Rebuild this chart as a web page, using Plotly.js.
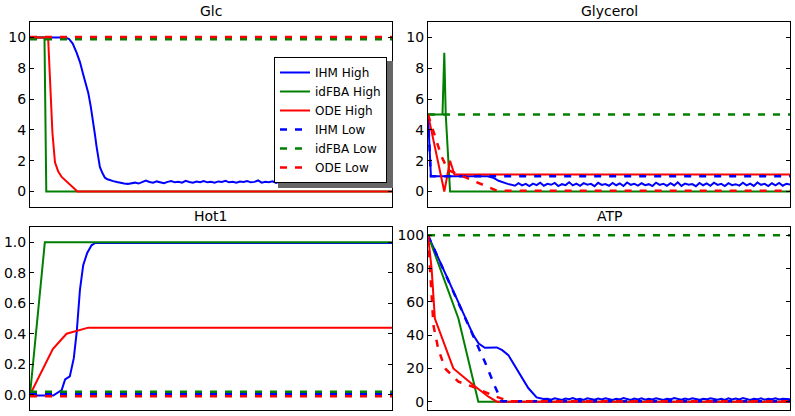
<!DOCTYPE html>
<html>
<head>
<meta charset="utf-8">
<script src="https://cdn.plot.ly/plotly-3.0.1.min.js"></script>
<style>html,body{margin:0;padding:0;background:#fff;}#chart{width:795px;height:416px;}</style>
</head>
<body>
<div id="chart"></div>
<script>
// ---------- data ----------
const seriesNames = ["IHM High", "idFBA High", "ODE High", "IHM Low", "idFBA Low", "ODE Low"];
const panelTitles = ["Glc", "Glycerol", "Hot1", "ATP"];

// shared x positions for the noisy tails
const tailX = [23,24,25,26,27,28,29,30,31,32,33,34,35,36,37,38,39,40,41,42,43,44,45,46,47,48,49,50,
  51,52,53,54,55,56,57,58,59,60,61,62,63,64,65,66,67,68,69,70,71,72,73,74,75,76,77,78,79,80,
  81,82,83,84,85,86,87,88,89,90,91,92,93,94,95,96,97,98,99,100];

// Glc
const glcIhmHighHeadX = [0, 9.7, 10.8, 11.8, 12.9, 13.8, 14.7, 15.5, 16.1, 16.8, 17.5, 18.0, 18.4, 18.9, 19.3, 20.0, 20.7, 21.4, 22.1];
const glcIhmHighHeadY = [10, 10, 9.9, 9.6, 9.0, 8.4, 7.6, 7.0, 6.4, 5.5, 4.5, 3.6, 2.9, 2.2, 1.6, 1.2, 0.9, 0.8, 0.73];
const glcIhmHighTailY = [0.68,0.62,0.55,0.52,0.50,0.55,0.58,0.52,
  0.60,0.72,0.62,0.58,0.66,0.60,0.55,0.63,0.68,0.60,
  0.64,0.58,0.70,0.62,0.57,0.65,0.61,0.68,0.60,0.63,
  0.58,0.66,0.62,0.70,0.60,0.64,0.57,0.65,0.62,0.68,
  0.60,0.63,0.72,0.58,0.64,0.61,0.67,0.56,0.65,0.62,
  0.69,0.60,0.64,0.58,0.66,0.62,0.70,0.59,0.63,0.67,
  0.57,0.65,0.62,0.72,0.60,0.64,0.58,0.68,0.61,0.65,
  0.59,0.66,0.62,0.70,0.58,0.64,0.61,0.67,0.60,0.63];
const glcIdfbaHighX = [0, 4.0, 4.5, 100];
const glcIdfbaHighY = [10, 10, 0, 0];
const glcOdeHighX = [0, 5.0, 6.2, 6.9, 7.8, 8.75, 13.1, 100];
const glcOdeHighY = [10, 10, 3.8, 1.9, 1.3, 0.95, 0, 0];
const glcIhmLowX = [0, 100];
const glcIhmLowY = [10, 10];
const glcIdfbaLowX = [0, 100];
const glcIdfbaLowY = [9.88, 9.88];
const glcOdeLowX = [0, 100];
const glcOdeLowY = [10.02, 10.02];

// Glycerol
const glyIhmHighHeadX = [0, 0.8, 16.5, 18.0, 19.5, 21.0, 22.0];
const glyIhmHighHeadY = [5, 1.0, 1.0, 0.9, 0.7, 0.55, 0.5];
const glyIhmHighTailY = [0.45,0.38,0.55,0.40,0.50,0.36,0.52,0.42,
  0.58,0.38,0.50,0.44,0.56,0.36,0.48,0.42,0.60,0.40,
  0.52,0.37,0.55,0.45,0.50,0.35,0.57,0.43,0.49,0.38,
  0.56,0.41,0.53,0.36,0.59,0.44,0.50,0.39,0.54,0.42,
  0.48,0.36,0.58,0.43,0.51,0.38,0.55,0.40,0.60,0.37,
  0.52,0.44,0.49,0.35,0.56,0.41,0.53,0.38,0.58,0.43,
  0.50,0.36,0.55,0.42,0.48,0.39,0.57,0.40,0.52,0.37,
  0.59,0.44,0.50,0.36,0.54,0.41,0.56,0.38,0.51,0.45];
const glyIdfbaHighX = [0, 4.0, 4.5, 4.9, 6.1, 100];
const glyIdfbaHighY = [5, 5, 9, 5, 0, 0];
const glyOdeHighX = [0, 4.5, 6.1, 7.3, 100];
const glyOdeHighY = [5, 0, 2.0, 1.1, 1.1];
const glyIhmLowX = [0, 0.8, 100];
const glyIhmLowY = [5, 1.0, 1.0];
const glyIdfbaLowX = [0, 100];
const glyIdfbaLowY = [5, 5];
const glyOdeLowX = [0, 3.7, 5.5, 12.5, 19.0, 100];
const glyOdeLowY = [5, 2.3, 1.4, 0.7, 0.06, 0.06];

// Hot1
const hotIhmHighX = [0, 6.4, 8.75, 9.7, 11.0, 12.1, 12.9, 13.8, 14.7, 15.8, 17.0, 18.0, 100];
const hotIhmHighY = [-0.005, -0.005, 0.03, 0.10, 0.12, 0.24, 0.41, 0.69, 0.85, 0.93, 0.98, 0.995, 0.995];
const hotIdfbaHighX = [0, 4.1, 100];
const hotIdfbaHighY = [0, 1.0, 1.0];
const hotOdeHighX = [0, 6.3, 10.1, 16.1, 100];
const hotOdeHighY = [0, 0.30, 0.40, 0.44, 0.44];
const hotIhmLowX = [0, 100];
const hotIhmLowY = [0.005, 0.005];
const hotIdfbaLowX = [0, 100];
const hotIdfbaLowY = [0.02, 0.02];
const hotOdeLowX = [0, 100];
const hotOdeLowY = [-0.01, -0.01];

// ATP
const atpIhmHighHeadX = [0, 12.5, 14.0, 15.7, 19.0, 20.5, 22.2, 24.9, 27.7, 30.0, 31.9];
const atpIhmHighHeadY = [100, 40, 35, 32.4, 32.6, 31, 28, 18, 8.2, 2.6, 1.6];
const atpIhmHighTailY = [1.8,1.2,2.0,1.4,1.0,1.9,1.5,2.2,
  1.3,1.7,1.1,2.0,1.6,1.2,1.9,1.4,2.1,1.5,
  1.0,1.8,1.3,2.2,1.6,1.1,1.9,1.4,2.0,1.2,
  1.7,1.3,2.1,1.5,1.0,1.8,1.4,2.2,1.6,1.2,
  1.9,1.3,2.0,1.5,1.1,1.8,1.4,2.1,1.6,1.2,
  1.7,1.0,2.0,1.4,1.9,1.3,2.2,1.5,1.1,1.8,
  1.4,2.0,1.2,1.7,1.5,2.1,1.3,1.8,1.6,1.4];
const atpIdfbaHighX = [0, 8.4, 13.9, 100];
const atpIdfbaHighY = [100, 50, 0, 0];
const atpOdeHighX = [0, 1.0, 1.9, 7.0, 12.5, 16.7, 19.0, 100];
const atpOdeHighY = [100, 80, 50, 20, 10, 3, 0, 0];
const atpIhmLowX = [0, 12.5, 13.4, 15.7, 18.5, 20.3, 100];
const atpIhmLowY = [100, 40, 36, 24, 9.1, 0.3, 0.3];
const atpIdfbaLowX = [0, 100];
const atpIdfbaLowY = [100, 100];
const atpOdeLowX = [0, 0.55, 1.5, 2.8, 4.7, 8.4, 13.0, 18.5, 22.7, 100];
const atpOdeLowY = [100, 77.7, 45.9, 32, 20, 12, 8.5, 3.2, 0.2, 0.2];

// ---------- build ----------
const colors = ["#0000ff", "#007f00", "#ff0000"];
const dashPat = "7px,8px";

const panels = [
  [[glcIhmHighHeadX.concat(tailX), glcIhmHighHeadY.concat(glcIhmHighTailY)],
   [glcIdfbaHighX, glcIdfbaHighY], [glcOdeHighX, glcOdeHighY],
   [glcIhmLowX, glcIhmLowY], [glcIdfbaLowX, glcIdfbaLowY], [glcOdeLowX, glcOdeLowY]],
  [[glyIhmHighHeadX.concat(tailX), glyIhmHighHeadY.concat(glyIhmHighTailY)],
   [glyIdfbaHighX, glyIdfbaHighY], [glyOdeHighX, glyOdeHighY],
   [glyIhmLowX, glyIhmLowY], [glyIdfbaLowX, glyIdfbaLowY], [glyOdeLowX, glyOdeLowY]],
  [[hotIhmHighX, hotIhmHighY], [hotIdfbaHighX, hotIdfbaHighY], [hotOdeHighX, hotOdeHighY],
   [hotIhmLowX, hotIhmLowY], [hotIdfbaLowX, hotIdfbaLowY], [hotOdeLowX, hotOdeLowY]],
  [[atpIhmHighHeadX.concat(tailX.slice(10)), atpIhmHighHeadY.concat(atpIhmHighTailY)],
   [atpIdfbaHighX, atpIdfbaHighY], [atpOdeHighX, atpOdeHighY],
   [atpIhmLowX, atpIhmLowY], [atpIdfbaLowX, atpIdfbaLowY], [atpOdeLowX, atpOdeLowY]]
];

const traces = [];
panels.forEach((series, p) => {
  const sfx = p === 0 ? "" : String(p + 1);
  series.forEach((s, i) => {
    const low = i >= 3;
    traces.push({
      type: "scatter", mode: "lines",
      x: s[0], y: s[1],
      xaxis: "x" + sfx, yaxis: "y" + sfx,
      name: seriesNames[i], legendgroup: seriesNames[i],
      showlegend: p === 0,
      line: {color: colors[i % 3], width: low ? 2.5 : 2, dash: low ? dashPat : "solid"},
      hoverinfo: "skip"
    });
  });
});

const W = 795, H = 416;
const px = v => v / W, py = v => 1 - v / H;
const font = {family: "DejaVu Sans, sans-serif", size: 14, color: "#000"};

function xa(x0, x1, anchor) {
  return {domain: [px(x0), px(x1)], anchor: anchor, range: [0, 100], showticklabels: false, ticks: "",
    showline: true, mirror: true, linecolor: "#000", linewidth: 1,
    showgrid: false, zeroline: false, fixedrange: true};
}
function ya(y0, y1, anchor, range, dtick, fmt) {
  return {domain: [py(y1), py(y0)], anchor: anchor, range: range, dtick: dtick, tick0: 0, tickformat: fmt,
    ticks: "inside", ticklen: 4, tickcolor: "#000", tickwidth: 1,
    showline: true, mirror: "ticks", linecolor: "#000", linewidth: 1,
    showgrid: false, zeroline: false, tickfont: font, fixedrange: true};
}

const L = [30, 392], R = [428, 790], T = [22, 207], B = [227, 410];

const layout = {
  width: W, height: H,
  margin: {l: 0, r: 0, t: 0, b: 0},
  paper_bgcolor: "#fff", plot_bgcolor: "#fff",
  font: font,
  showlegend: true,
  legend: {x: px(274), y: py(57), xanchor: "left", yanchor: "top",
    bgcolor: "#fff", bordercolor: "#000", borderwidth: 1,
    font: {family: "DejaVu Sans, sans-serif", size: 12, color: "#000"},
    traceorder: "normal", tracegroupgap: 0},
  xaxis: xa(L[0], L[1], "y"), yaxis: ya(T[0], T[1], "x", [-1, 11], 2, ""),
  xaxis2: xa(R[0], R[1], "y2"), yaxis2: ya(T[0], T[1], "x2", [-1, 11], 2, ""),
  xaxis3: xa(L[0], L[1], "y3"), yaxis3: ya(B[0], B[1], "x3", [-0.1, 1.1], 0.2, ".1f"),
  xaxis4: xa(R[0], R[1], "y4"), yaxis4: ya(B[0], B[1], "x4", [-5, 105], 20, ""),
  shapes: [{type: "rect", xref: "paper", yref: "paper",
    x0: px(278), x1: px(393), y0: py(188), y1: py(61),
    fillcolor: "#666", line: {width: 0}, layer: "above"}],
  annotations: [
    {text: panelTitles[0], x: px((L[0] + L[1]) / 2), y: py(11)},
    {text: panelTitles[1], x: px((R[0] + R[1]) / 2), y: py(11)},
    {text: panelTitles[2], x: px((L[0] + L[1]) / 2), y: py(216)},
    {text: panelTitles[3], x: px((R[0] + R[1]) / 2), y: py(216)}
  ].map(a => Object.assign(a, {xref: "paper", yref: "paper", xanchor: "center", yanchor: "middle",
    showarrow: false, font: {family: "DejaVu Sans, sans-serif", size: 14, color: "#000"}}))
};

Plotly.newPlot("chart", traces, layout, {staticPlot: true, displayModeBar: false});
</script>
</body>
</html>
